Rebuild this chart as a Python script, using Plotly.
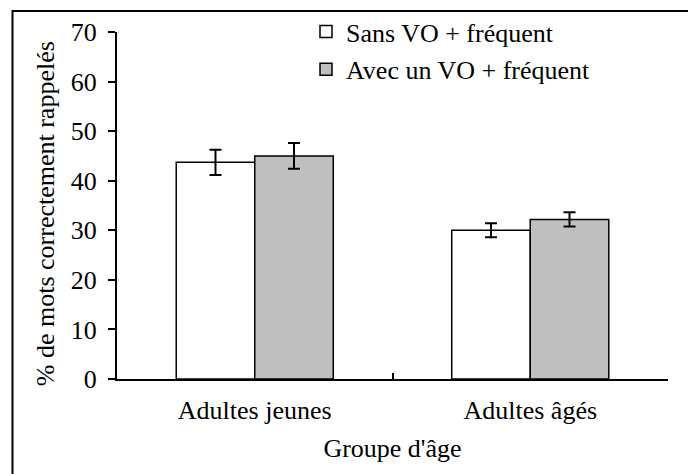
import plotly.graph_objects as go

categories = ["Adultes jeunes", "Adultes âgés"]
series_names = ["Sans VO + fréquent", "Avec un VO + fréquent"]
y_title = "% de mots correctement rappelés"
x_title = "Groupe d'âge"
sans_vo = [43.7, 30.0]
sans_vo_err = [2.55, 1.4]
avec_vo = [45.0, 32.2]
avec_vo_err = [2.6, 1.45]
y_ticks = [0, 10, 20, 30, 40, 50, 60, 70]

# the page body adds an 8px offset, so the figure is laid out 8px up/left
OFF = 8
W, H = 696, 474
L, T = 117 - OFF, 31.5 - OFF
pw, ph = 551, 347.5
R, B = W - L - pw, H - T - ph

FAM = "Liberation Serif"
BIG = 26
TICK = 26

def f(size):
    return dict(family=FAM, size=size, color="black")

def px_x(x):
    return (x - OFF - L) / pw

def px_y(y):
    return 1 - (y - OFF - T) / ph

fig = go.Figure()
fig.add_trace(go.Bar(
    name=series_names[0], x=categories, y=sans_vo, legendgroup="a",
    marker=dict(color="white", line=dict(color="black", width=1.5)),
    error_y=dict(type="data", array=sans_vo_err, color="black", thickness=2, width=6),
))
fig.add_trace(go.Bar(
    name=series_names[1], x=categories, y=avec_vo, legendgroup="b",
    marker=dict(color="#bfbfbf", line=dict(color="black", width=1.5)),
    error_y=dict(type="data", array=avec_vo_err, color="black", thickness=2, width=6),
))

fig.update_layout(
    width=W, height=H,
    margin=dict(l=L, r=R, t=T, b=B, pad=0, autoexpand=False),
    paper_bgcolor="white", plot_bgcolor="white",
    font=f(BIG),
    barmode="group", bargap=0.43, bargroupgap=0,
    showlegend=True,
    legend=dict(xref="container", yref="container",
                x=(306 - OFF) / W, y=1.0, xanchor="left", yanchor="top",
                bgcolor="rgba(0,0,0,0)", font=f(BIG), tracegroupgap=1,
                traceorder="grouped", itemwidth=30),
    xaxis=dict(showline=True, linecolor="black", linewidth=2,
               ticks="inside", ticklen=6, tickwidth=1.5, tickcolor="black",
               tickson="boundaries", showgrid=False, ticklabelstandoff=7,
               tickfont=f(BIG),
               title=dict(text=x_title, standoff=15, font=f(BIG))),
    yaxis=dict(range=[0, 70], tickvals=y_ticks, showline=True, linecolor="black", linewidth=2,
               ticks="outside", ticklen=7, tickwidth=1.5, tickcolor="black",
               showgrid=False, zeroline=False, ticklabelstandoff=6,
               tickfont=f(TICK)),
    annotations=[dict(text=y_title, textangle=-90, showarrow=False,
                      xref="paper", yref="paper", x=px_x(45), y=px_y(214),
                      xanchor="center", yanchor="middle", font=f(BIG))],
    shapes=[dict(type="rect", xref="paper", yref="paper",
                 x0=px_x(12.5), x1=px_x(691),
                 y0=px_y(484), y1=px_y(10.5),
                 line=dict(color="black", width=2), fillcolor="rgba(0,0,0,0)", layer="above")],
)

fig.write_html("out.html")
